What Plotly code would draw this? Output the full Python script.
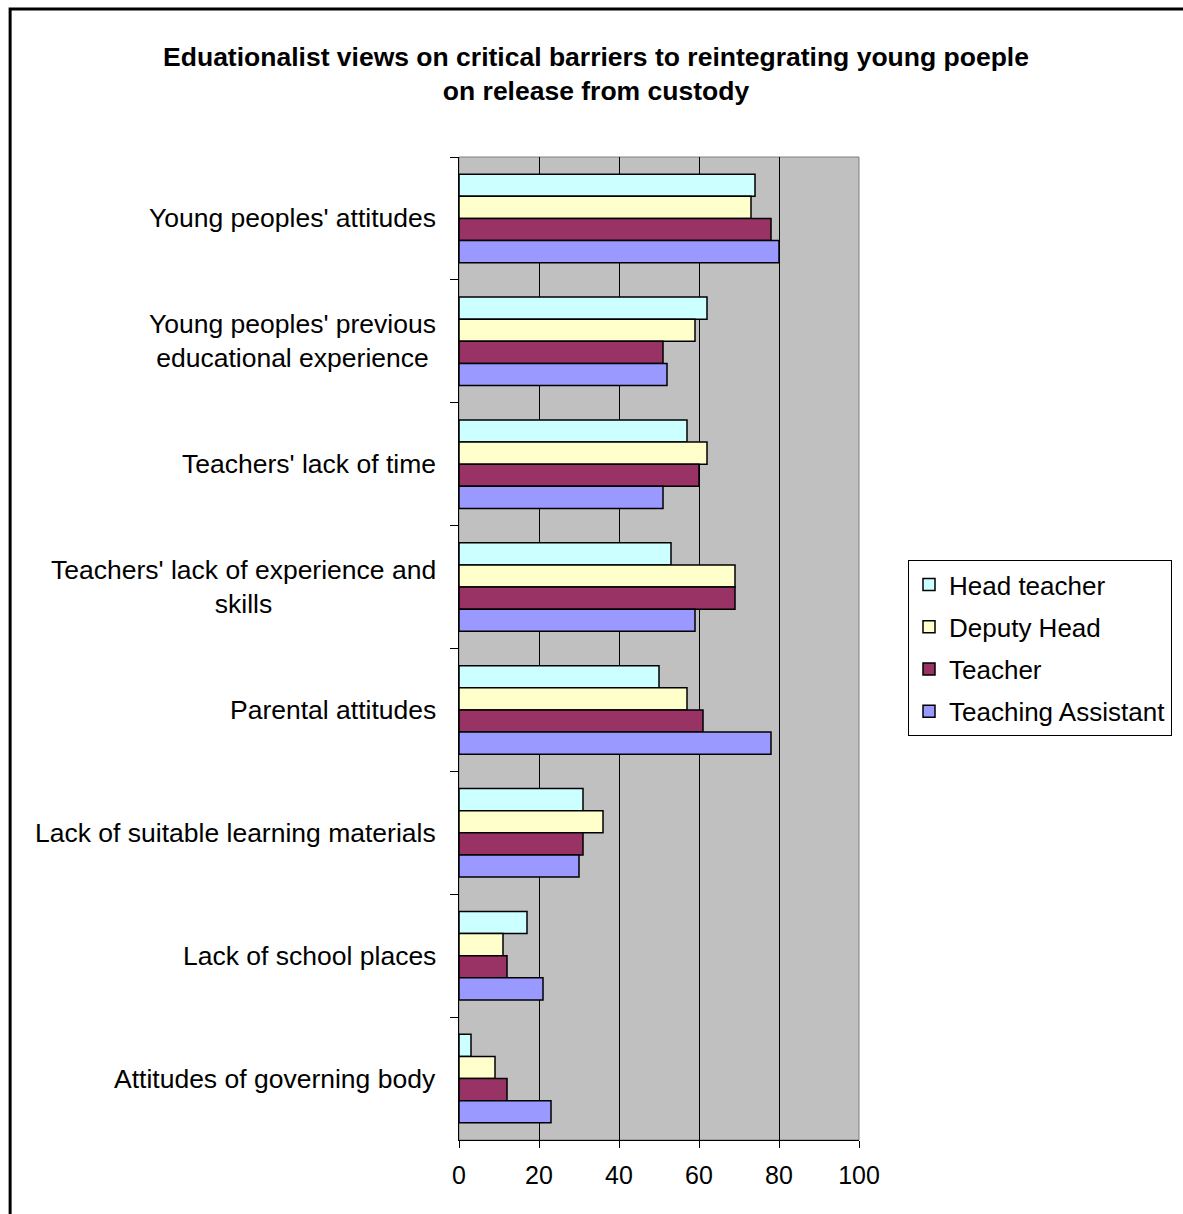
import plotly.graph_objects as go

categories = [
    "Young peoples' attitudes",
    "Young peoples' previous<br>educational experience",
    "Teachers' lack of time",
    "Teachers' lack of experience and<br>skills",
    "Parental attitudes",
    "Lack of suitable learning materials",
    "Lack of school places",
    "Attitudes of governing body",
]
series_names = ["Head teacher", "Deputy Head", "Teacher", "Teaching Assistant"]
head_teacher = [74, 62, 57, 53, 50, 31, 17, 3]
deputy_head = [73, 59, 62, 69, 57, 36, 11, 9]
teacher = [78, 51, 60, 69, 61, 31, 12, 12]
teaching_assistant = [80, 52, 51, 59, 78, 30, 21, 23]
x_ticks = [0, 20, 40, 60, 80, 100]

colors = ["#CCFFFF", "#FFFFCC", "#993366", "#9999FF"]
values = [head_teacher, deputy_head, teacher, teaching_assistant]

FONT = "Liberation Sans, Arial, sans-serif"

fig = go.Figure()
for name, vals, col in zip(series_names, values, colors):
    fig.add_trace(go.Bar(
        y=categories, x=vals, name=name, orientation="h",
        marker=dict(color=col, line=dict(color="black", width=1.5)),
        legendgroup=name,
    ))

W, H = 1183, 1214
L, R, T, B = 459, 323, 157, 74
pw, ph = W - L - R, H - T - B

def px_x(p):
    return (p - L) / pw

def px_y(p):
    return (H - B - p) / ph

annotations = []
for c in categories:
    annotations.append(dict(
        x=0, xref="paper", y=c, yref="y", xshift=-21, xanchor="right",
        text=c, showarrow=False, align="center",
        font=dict(family=FONT, size=26.5, color="black"),
    ))

shapes = [
    dict(type="rect", xref="paper", yref="paper",
         x0=px_x(9), x1=px_x(1210), y0=px_y(1240), y1=px_y(9),
         line=dict(color="black", width=3), layer="above"),
    dict(type="rect", xref="paper", yref="paper",
         x0=0, x1=1, y0=0, y1=1,
         line=dict(color="#808080", width=1), layer="below"),
]

fig.update_layout(
    width=W, height=H,
    margin=dict(l=L, r=R, t=T, b=B),
    paper_bgcolor="white",
    plot_bgcolor="#C0C0C0",
    barmode="group",
    bargap=0.28,
    bargroupgap=0,
    title=dict(
        text="<b>Eduationalist views on critical barriers to reintegrating young poeple<br>on release from custody</b>",
        xref="container", yref="container",
        x=596 / W, xanchor="center", y=1 - 66 / H, yanchor="middle",
        font=dict(family=FONT, size=26.5, color="black"),
    ),
    xaxis=dict(
        range=[0, 100], tickvals=x_ticks, ticktext=[str(v) for v in x_ticks],
        showgrid=True, gridcolor="black", gridwidth=1,
        showline=True, linecolor="black", linewidth=1,
        ticks="outside", ticklen=7, tickcolor="black",
        ticklabelstandoff=6,
        tickfont=dict(family=FONT, size=25, color="black"),
        zeroline=False, fixedrange=True,
    ),
    yaxis=dict(
        type="category", categoryorder="array", categoryarray=categories,
        autorange="reversed",
        showticklabels=False,
        ticks="outside", tickson="boundaries", ticklen=8, tickcolor="black",
        showline=True, linecolor="black", linewidth=1,
        showgrid=False, zeroline=False, fixedrange=True,
    ),
    legend=dict(
        x=px_x(908), y=px_y(560), xanchor="left", yanchor="top",
        bordercolor="black", borderwidth=1, bgcolor="white",
        font=dict(family=FONT, size=26, color="black"),
        traceorder="grouped", tracegroupgap=5.5,
        itemwidth=30,
    ),
    annotations=annotations,
    shapes=shapes,
)

fig.write_html("out.html")
